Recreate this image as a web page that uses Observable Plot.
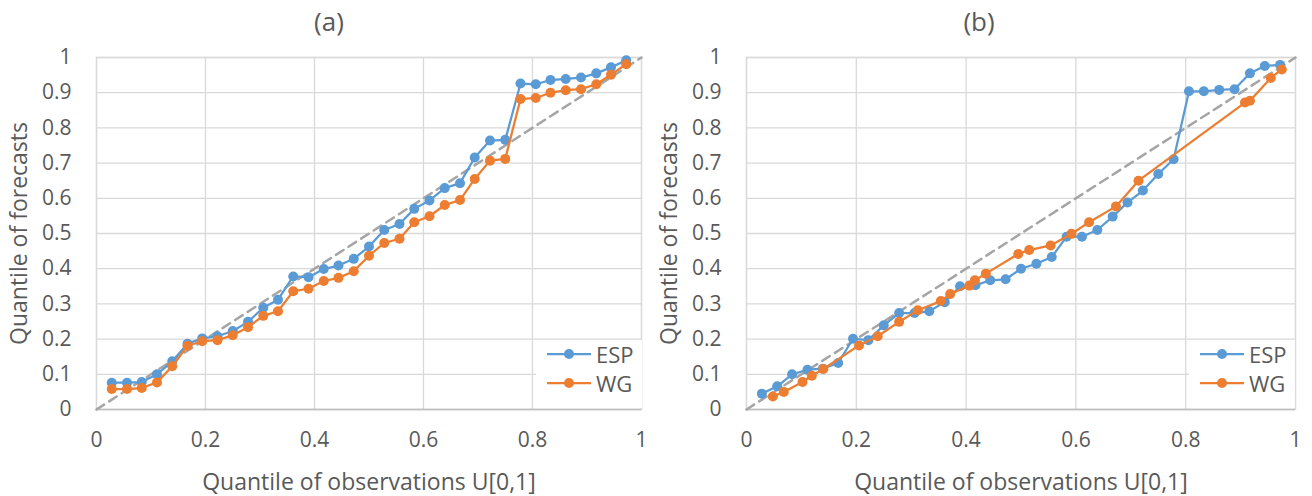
<!DOCTYPE html>
<html>
<head>
<meta charset="utf-8">
<script src="https://cdn.jsdelivr.net/npm/d3@7"></script>
<script src="https://cdn.jsdelivr.net/npm/@observablehq/plot@0.6"></script>
<style>
  html, body { margin: 0; padding: 0; background: #fff; }
  #wrap { display: flex; width: 1312px; height: 496px; }
  .panel { position: relative; }
  .legend { position: absolute; background: #fff; font-family: "Open Sans", sans-serif; font-size: 22px; color: #595959; }
  .legend .row { position: absolute; left: 0; display: flex; align-items: center; height: 26px; }
  .legend svg { display: block; }
</style>
</head>
<body>
<div id="wrap"></div>
<script>
// ---- data ----
const panelTitles = ["(a)", "(b)"];
const seriesNames = ["ESP", "WG"];
const xLabel = "Quantile of observations U[0,1]";
const yLabel = "Quantile of forecasts";
const xTicks = [0, 0.2, 0.4, 0.6, 0.8, 1];
const yTicks = [0, 0.1, 0.2, 0.3, 0.4, 0.5, 0.6, 0.7, 0.8, 0.9, 1];
const diagonal = [0, 1];

// observation quantiles shared by ESP (a), WG (a), ESP (b)
const obsQ = [0.028, 0.056, 0.083, 0.111, 0.139, 0.167, 0.194, 0.222, 0.250, 0.278,
              0.306, 0.333, 0.361, 0.389, 0.417, 0.444, 0.472, 0.500, 0.528, 0.556,
              0.583, 0.611, 0.639, 0.667, 0.694, 0.722, 0.750, 0.778, 0.806, 0.833,
              0.861, 0.889, 0.917, 0.944, 0.972];
const espA = [0.076, 0.076, 0.078, 0.100, 0.137, 0.187, 0.202, 0.208, 0.223, 0.249,
              0.289, 0.312, 0.378, 0.376, 0.399, 0.409, 0.428, 0.463, 0.510, 0.527,
              0.570, 0.594, 0.629, 0.643, 0.716, 0.764, 0.766, 0.926, 0.924, 0.936,
              0.939, 0.943, 0.955, 0.972, 0.992];
const wgA  = [0.058, 0.058, 0.061, 0.077, 0.123, 0.181, 0.194, 0.197, 0.211, 0.234,
              0.266, 0.279, 0.336, 0.343, 0.365, 0.374, 0.393, 0.437, 0.473, 0.485,
              0.532, 0.549, 0.581, 0.595, 0.655, 0.707, 0.712, 0.882, 0.885, 0.900,
              0.907, 0.910, 0.924, 0.951, 0.981];
const espB = [0.045, 0.066, 0.100, 0.113, 0.116, 0.132, 0.201, 0.197, 0.239, 0.274,
              0.274, 0.279, 0.305, 0.350, 0.353, 0.367, 0.370, 0.400, 0.414, 0.433,
              0.491, 0.491, 0.510, 0.548, 0.588, 0.622, 0.669, 0.711, 0.904, 0.904,
              0.908, 0.910, 0.955, 0.976, 0.979];
const wgBx = [0.048, 0.068, 0.102, 0.119, 0.140, 0.205, 0.239, 0.278, 0.312, 0.354,
              0.371, 0.406, 0.416, 0.436, 0.495, 0.515, 0.554, 0.592, 0.624, 0.673,
              0.714, 0.908, 0.917, 0.955, 0.975];
const wgB  = [0.037, 0.050, 0.078, 0.096, 0.115, 0.182, 0.208, 0.249, 0.282, 0.308,
              0.328, 0.352, 0.367, 0.386, 0.442, 0.453, 0.466, 0.499, 0.532, 0.577,
              0.650, 0.872, 0.877, 0.942, 0.966];

const colors = {ESP: "#5B9BD5", WG: "#ED7D31"};
const ink = "#595959";
const fmt = d => String(+d.toFixed(1));
const rows = (xs, ys) => xs.map((x, i) => ({x, y: ys[i]}));

function panel({title, esp, wg, marginLeft, marginRight, width, titleDx, yLabelX}) {
  return Plot.plot({
    width, height: 496,
    marginLeft, marginRight, marginTop: 57, marginBottom: 87,
    x: {domain: [0, 1]},
    y: {domain: [0, 1]},
    style: {fontFamily: "'Open Sans', sans-serif", fontSize: "21px", color: ink, background: "#fff", overflow: "visible"},
    marks: [
      Plot.gridX(xTicks, {stroke: "#D9D9D9", strokeOpacity: 1, strokeWidth: 1.3}),
      Plot.gridY(yTicks, {stroke: "#D9D9D9", strokeOpacity: 1, strokeWidth: 1.3}),
      Plot.frame({stroke: "#D9D9D9", strokeWidth: 1.3}),
      Plot.ruleY([0], {stroke: "#BFBFBF", strokeWidth: 1.5}),
      Plot.line(diagonal, {x: d => d, y: d => d, stroke: "#A5A5A5", strokeWidth: 2.5, strokeDasharray: "9,6"}),
      Plot.line(esp, {x: "x", y: "y", stroke: colors.ESP, strokeWidth: 2.25}),
      Plot.dot(esp, {x: "x", y: "y", r: 5, fill: colors.ESP}),
      Plot.line(wg, {x: "x", y: "y", stroke: colors.WG, strokeWidth: 2.25}),
      Plot.dot(wg, {x: "x", y: "y", r: 5, fill: colors.WG}),
      Plot.axisX(xTicks, {tickSize: 0, tickPadding: 23, tickFormat: fmt, label: null, fontSize: 21, fill: ink}),
      Plot.axisY(yTicks, {tickSize: 0, tickPadding: 25, tickFormat: fmt, label: null, fontSize: 21, fill: ink}),
      Plot.text([xLabel], {frameAnchor: "bottom", dy: 73, lineAnchor: "middle", textAnchor: "middle", fontSize: 23, fill: ink}),
      Plot.text([yLabel], {frameAnchor: "left", dx: -(marginLeft - yLabelX), lineAnchor: "middle", textAnchor: "middle", rotate: -90, fontSize: 23, fill: ink}),
      Plot.text([title], {frameAnchor: "top", dx: titleDx, dy: -35, lineAnchor: "middle", textAnchor: "middle", fontSize: 26, fill: ink})
    ]
  });
}

function legend(left, top) {
  const lg = document.createElement("div");
  lg.className = "legend";
  Object.assign(lg.style, {left: left + "px", top: top + "px", width: "106px", height: "68px"});
  seriesNames.forEach((name, i) => {
    const row = document.createElement("div");
    row.className = "row";
    row.style.top = (1 + i * 29) + "px";
    row.style.left = "10px";
    const s = d3.create("svg").attr("width", 48).attr("height", 12);
    s.append("line").attr("x1", 1).attr("x2", 45).attr("y1", 6).attr("y2", 6)
      .attr("stroke", colors[name]).attr("stroke-width", 2.25);
    s.append("circle").attr("cx", 23).attr("cy", 6).attr("r", 5).attr("fill", colors[name]);
    row.appendChild(s.node());
    const t = document.createElement("span");
    t.textContent = name;
    t.style.marginLeft = "2px";
    row.appendChild(t);
    lg.appendChild(row);
  });
  return lg;
}

const wrap = document.getElementById("wrap");
const specs = [
  {title: panelTitles[0], esp: rows(obsQ, espA), wg: rows(obsQ, wgA), marginLeft: 96, marginRight: 15, width: 656, titleDx: -40, yLabelX: 19, lg: [536, 340]},
  {title: panelTitles[1], esp: rows(obsQ, espB), wg: rows(wgBx, wgB), marginLeft: 90, marginRight: 17, width: 656, titleDx: -42, yLabelX: 13, lg: [533, 340]}
];
specs.forEach(s => {
  const p = document.createElement("div");
  p.className = "panel";
  p.appendChild(panel(s));
  p.appendChild(legend(s.lg[0], s.lg[1]));
  wrap.appendChild(p);
});
</script>
</body>
</html>
